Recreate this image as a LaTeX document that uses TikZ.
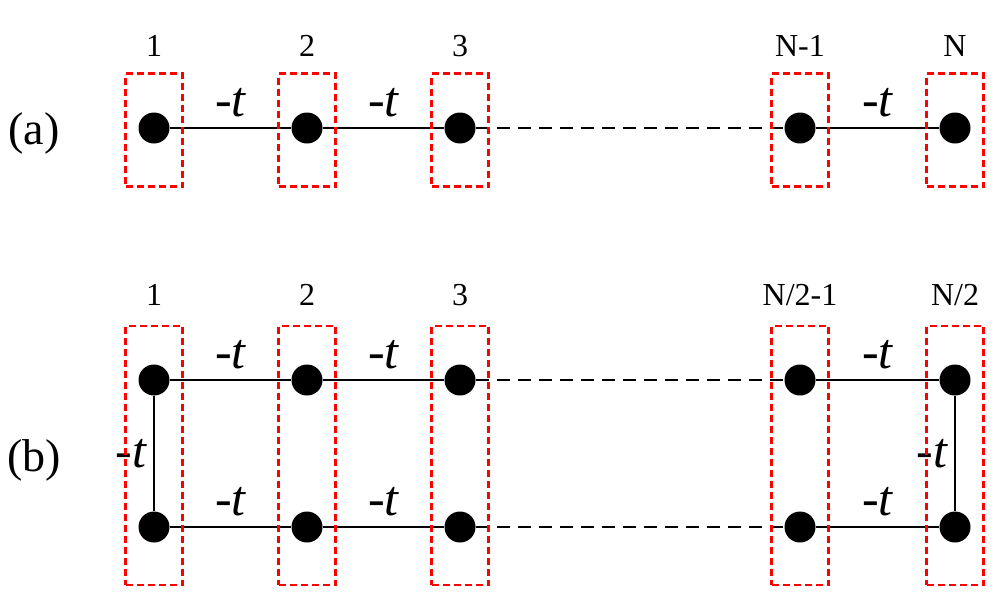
\documentclass[tikz,border=0pt]{standalone}
\usepackage{fontspec}
\setmainfont{Liberation Serif}
\usetikzlibrary{calc}

\begin{document}
\begin{tikzpicture}[x=1pt,y=1pt,node distance=153pt,
            site/.style={circle,fill=black,inner sep=0pt,minimum size=31pt},
            bond/.style={draw=black,line width=2.6pt},
            gap/.style={draw=black,line width=2.6pt,dash pattern=on 13pt off 8pt},
            hop/.style={midway,yshift=25pt,font=\fontsize{50}{50}\selectfont\itshape},
            vhop/.style={midway,xshift=-23pt,font=\fontsize{50}{50}\selectfont\itshape},
            num/.style={font=\fontsize{32}{32}\selectfont},
            panel/.style={font=\fontsize{46}{46}\selectfont},
            cell/.style={draw=red,line width=2.8pt,dash pattern=on 7pt off 4pt,
                inner sep=0pt,minimum width=57pt,minimum height=113pt},
            ladder/.style={cell,minimum height=259pt}]

        \useasboundingbox (0,0) rectangle (998,-614);

        % (a) open chain
        \node[site] (a1) at (154,-128) {};
        \node[site] (a2) [right of=a1] {};
        \node[site] (a3) [right of=a2] {};
        \node[site] (a4) [right of=a3,node distance=340pt] {};
        \node[site] (a5) [right of=a4,node distance=155pt] {};
        \node[panel] (pa) at (34,-133) {(a)};

        \path
            (a1) edge[bond] node[hop] {-t} (a2)
            (a2) edge[bond] node[hop] {-t} (a3)
            (a3) edge[gap] (a4)
            (a4) edge[bond] node[hop] {-t} (a5);

        \foreach \i/\lab in {1/1,2/2,3/3,4/{N-1},5/N} {
            \node[num] (la\i) at ($(a\i)+(0,82)$) {\lab};
            \node[cell] (ca\i) at ($(a\i)+(0,-2)$) {};
        }

        % (b) two-leg ladder
        \node[site] (b1) at (154,-380) {};
        \node[site] (b2) [right of=b1] {};
        \node[site] (b3) [right of=b2] {};
        \node[site] (b4) [right of=b3,node distance=340pt] {};
        \node[site] (b5) [right of=b4,node distance=155pt] {};
        \node[site] (c1) at (154,-527) {};
        \node[site] (c2) [right of=c1] {};
        \node[site] (c3) [right of=c2] {};
        \node[site] (c4) [right of=c3,node distance=340pt] {};
        \node[site] (c5) [right of=c4,node distance=155pt] {};
        \node[panel] (pb) at (34,-460) {(b)};

        \path
            (b1) edge[bond] node[hop] {-t} (b2)
            (b2) edge[bond] node[hop] {-t} (b3)
            (b3) edge[gap] (b4)
            (b4) edge[bond] node[hop] {-t} (b5)
            (c1) edge[bond] node[hop] {-t} (c2)
            (c2) edge[bond] node[hop] {-t} (c3)
            (c3) edge[gap] (c4)
            (c4) edge[bond] node[hop] {-t} (c5)
            (b1) edge[bond] node[vhop] {-t} (c1)
            (b5) edge[bond] node[vhop] {-t} (c5);

        \foreach \i/\lab in {1/1,2/2,3/3,4/{N/2-1},5/{N/2}} {
            \node[num] (lb\i) at ($(b\i)+(0,85)$) {\lab};
            \node[ladder] (cb\i) at ($(b\i)!0.5!(c\i)+(0,-2)$) {};
        }

        \end{tikzpicture}
\end{document}
